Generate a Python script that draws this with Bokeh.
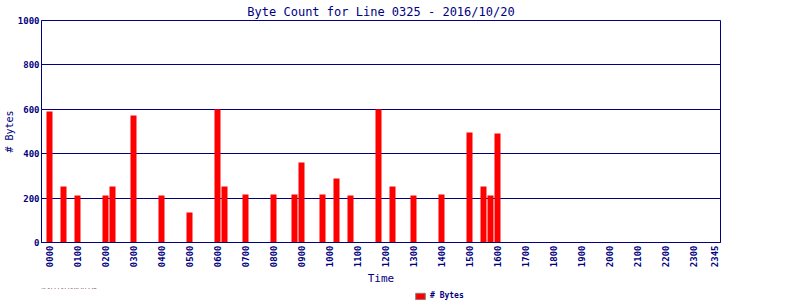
from bokeh.plotting import figure
from bokeh.layouts import column
from bokeh.models import FixedTicker, Range1d, Legend, LegendItem, ColumnDataSource
from bokeh.embed import file_html
from bokeh.resources import INLINE
import math

times = ["0000", "0030", "0100", "0200", "0215", "0300", "0400", "0500", "0600", "0615",
         "0700", "0800", "0845", "0900", "0945", "1015", "1045", "1145", "1215", "1300",
         "1400", "1500", "1530", "1545", "1600"]
byte_counts = [590, 252, 212, 212, 252, 572, 212, 135, 600, 252,
               216, 216, 216, 360, 216, 288, 212, 600, 252, 212,
               216, 495, 252, 212, 491]
tick_labels = ["0000", "0100", "0200", "0300", "0400", "0500", "0600", "0700", "0800",
               "0900", "1000", "1100", "1200", "1300", "1400", "1500", "1600", "1700",
               "1800", "1900", "2000", "2100", "2200", "2300", "2345"]

def slot(t):
    return int(t[:2]) * 4 + int(t[2:]) // 15

NAVY = "#000080"
FONT = "DejaVu Sans Mono"

src = ColumnDataSource(dict(x=[slot(t) for t in times], top=byte_counts))

p = figure(width=800, output_backend="svg", toolbar_location=None,
           x_range=Range1d(-1.143, 95.857), y_range=Range1d(0, 1000),
           title="Byte Count for Line 0325 - 2016/10/20",
           min_border_left=41, min_border_right=80, min_border_top=20, min_border_bottom=0)
p.frame_width = 679
p.frame_height = 222

p.title.align = "center"
p.title.text_color = NAVY
p.title.text_font = FONT
p.title.text_font_size = "12px"
p.title.text_font_style = "normal"
p.title.standoff = 4
p.title.offset = 0

r = p.vbar(x="x", top="top", width=0.86, source=src, color="#ff0000", line_color=None)

ticks = [slot(t) for t in tick_labels]
p.xaxis.ticker = FixedTicker(ticks=ticks)
p.xaxis.major_label_overrides = {s: t for s, t in zip(ticks, tick_labels)}
p.xaxis.major_label_orientation = math.pi / 2
p.yaxis.ticker = FixedTicker(ticks=[0, 200, 400, 600, 800, 1000])

for ax in (p.xaxis[0], p.yaxis[0]):
    ax.axis_line_color = NAVY
    ax.axis_line_width = 1
    ax.major_tick_line_color = None
    ax.minor_tick_line_color = None
    ax.major_tick_out = 0
    ax.major_tick_in = 0
    ax.minor_tick_out = 0
    ax.minor_tick_in = 0
    ax.major_label_text_color = NAVY
    ax.major_label_text_font = FONT
    ax.major_label_text_font_size = "9px"
    ax.major_label_text_font_style = "bold"
    ax.major_label_standoff = 3
    ax.axis_label_text_color = NAVY
    ax.axis_label_text_font = FONT
    ax.axis_label_text_font_style = "normal"
    ax.axis_label_text_font_size = "11px"

p.xaxis.axis_label = "Time"
p.yaxis.axis_label = "# Bytes"
p.yaxis.axis_label_text_font_size = "10px"
p.xaxis.axis_label_standoff = 2
p.yaxis.axis_label_standoff = 0
p.yaxis.major_label_standoff = 2

p.xgrid.grid_line_color = None
p.ygrid.grid_line_color = NAVY
p.ygrid.grid_line_width = 1
p.outline_line_color = NAVY
p.outline_line_alpha = 1
p.background_fill_color = "white"
p.border_fill_color = "white"

# Legend strip below the chart (its own small figure, legend inside its frame)
p2 = figure(width=800, height=13, output_backend="svg", toolbar_location=None,
            x_range=Range1d(0, 800), y_range=Range1d(-100, -50),
            x_axis_location=None, y_axis_location=None,
            min_border_left=0, min_border_right=0, min_border_top=0, min_border_bottom=0)
p2.xgrid.grid_line_color = None
p2.ygrid.grid_line_color = None
p2.outline_line_color = None
p2.background_fill_color = "white"
p2.border_fill_color = "white"
r2 = p2.vbar(x="x", top="top", width=0.86, source=src, fill_color="#ff0000",
             line_color="#808080", line_width=1)

legend = Legend(items=[LegendItem(label="# Bytes", renderers=[r2])], location=(373, 1),
                orientation="horizontal", background_fill_alpha=0, border_line_color=None,
                label_text_font=FONT, label_text_font_size="8px", label_text_font_style="bold",
                label_text_color=NAVY, glyph_width=12, glyph_height=8, padding=0, spacing=0,
                label_standoff=4, margin=0, label_height=8)
p2.add_layout(legend, "center")

layout = column(p, p2, spacing=0)
open("out.html", "w").write(file_html(layout, INLINE))
